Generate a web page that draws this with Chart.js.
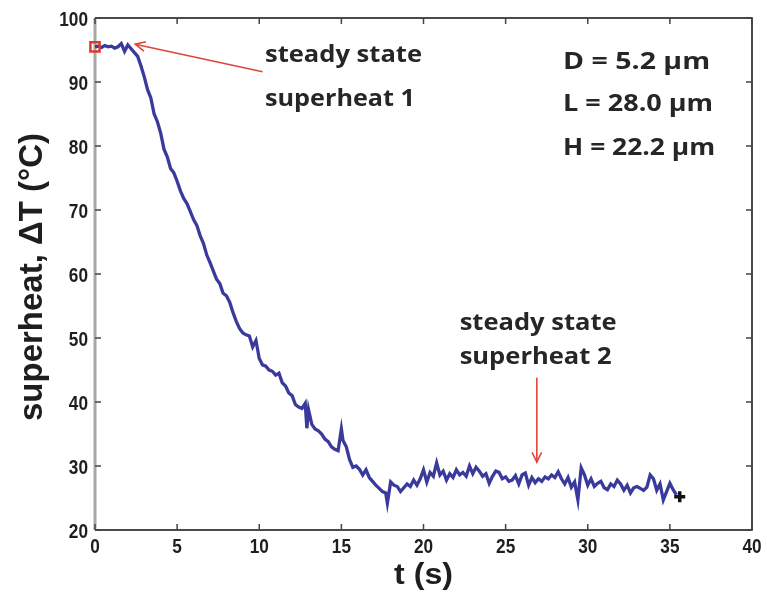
<!DOCTYPE html>
<html>
<head>
<meta charset="utf-8">
<script src="https://cdn.jsdelivr.net/npm/chart.js@4"></script>
<style>
  html, body { margin: 0; padding: 0; background: #fff; }
  #wrap { width: 767px; height: 594px; }
</style>
</head>
<body>
<div id="wrap"><canvas id="grafico"></canvas></div>
<script>
// time (s) and superheat (degC)
const tempo = [
  0, 0.2, 0.4, 0.6, 0.8, 1.0, 1.2, 1.4, 1.6, 1.8, 2.0, 2.2, 2.4, 2.6, 2.8, 3.0,
  3.2, 3.4, 3.6, 3.8, 4.0, 4.2, 4.4, 4.6, 4.8, 5.0, 5.2, 5.4, 5.6, 5.8, 6.0,
  6.2, 6.4, 6.6, 6.8, 7.0, 7.2, 7.4, 7.6, 7.8, 8.0, 8.2, 8.4, 8.6, 8.8, 9.0,
  9.2, 9.4, 9.6, 9.8, 10.0, 10.2, 10.4, 10.6, 10.8, 11.0, 11.2, 11.4, 11.6, 11.8, 12.0,
  12.2, 12.4, 12.6, 12.8, 12.9, 13.0, 13.2, 13.4, 13.6, 13.8, 14.0, 14.2, 14.4, 14.6, 14.8,
  15.0, 15.1, 15.3, 15.5, 15.7, 15.9, 16.1, 16.3, 16.5, 16.7, 16.9, 17.1, 17.3, 17.5, 17.7,
  17.8, 18.0, 18.2, 18.4, 18.6, 18.8, 19.0, 19.2, 19.4, 19.6, 19.8, 20.0, 20.2, 20.4, 20.6,
  20.8, 21.0, 21.2, 21.4, 21.6, 21.8, 22.0, 22.2, 22.4, 22.6, 22.8, 23.0, 23.2, 23.4, 23.6,
  23.8, 24.0, 24.2, 24.4, 24.6, 24.8, 25.0, 25.2, 25.4, 25.6, 25.8, 26.0, 26.2, 26.4, 26.6,
  26.8, 27.0, 27.2, 27.4, 27.6, 27.8, 28.0, 28.2, 28.4, 28.6, 28.8, 29.0, 29.2, 29.4, 29.6,
  29.8, 30.0, 30.2, 30.4, 30.6, 30.8, 31.0, 31.2, 31.4, 31.6, 31.8, 32.0, 32.2, 32.4, 32.6,
  32.8, 33.0, 33.2, 33.4, 33.6, 33.8, 34.0, 34.2, 34.4, 34.6, 34.8, 35.0, 35.2, 35.4
]
const superaquecimento = [
  95.5, 95.6, 95.4, 95.7, 95.5, 95.6, 95.3, 95.5, 96.0, 94.8, 95.8, 95.2, 94.6, 94.0, 92.5, 90.8,
  88.8, 87.5, 85.0, 83.8, 82.0, 79.5, 78.3, 76.5, 75.8, 74.5, 73.0, 71.8, 71.0, 69.8, 68.5,
  67.6, 66.0, 64.8, 63.0, 61.8, 60.5, 59.2, 58.5, 57.0, 56.6, 55.6, 54.0, 52.6, 51.5, 50.8,
  50.5, 50.3, 48.6, 49.6, 46.8, 45.8, 45.6, 45.0, 44.8, 44.2, 44.5, 43.0, 42.5, 41.4, 41.0,
  39.6, 39.2, 39.0, 39.8, 35.9, 38.8, 36.5, 35.8, 35.5, 35.0, 34.2, 33.8, 33.0, 32.6, 32.4,
  35.8, 34.0, 33.0, 31.0, 29.8, 30.0, 29.5, 28.6, 29.4, 28.2, 27.6, 27.0, 26.5, 26.0, 25.8,
  24.2, 27.5, 27.0, 26.8, 26.0, 26.6, 27.2, 26.8, 27.8, 27.0, 28.0, 29.4, 27.5, 29.0, 28.4,
  30.5, 28.6, 29.2, 27.8, 28.8, 28.2, 29.4, 28.6, 29.0, 28.4, 30.0, 28.8, 29.8, 29.2, 28.4,
  28.8, 27.3, 28.4, 29.2, 29.0, 28.0, 28.3, 27.6, 27.8, 28.5, 27.2, 28.6, 28.9, 27.0, 28.2,
  27.4, 28.0, 27.6, 28.3, 28.0, 28.6, 28.2, 29.1, 28.0, 27.2, 28.2, 26.7, 27.5, 24.7, 29.7,
  28.6, 27.0, 28.0, 26.8, 27.3, 27.6, 26.6, 26.3, 27.2, 26.8, 27.8, 27.2, 26.2, 27.0, 25.8,
  26.6, 26.8, 26.5, 26.2, 26.7, 28.6, 28.0, 26.2, 27.2, 24.7, 26.0, 27.3, 26.3, 25.5
]
const inicio = [{ x: 0, y: 95.5 }]
const fim = [{ x: 35.6, y: 25.2 }]

const ticksX = [0, 5, 10, 15, 20, 25, 30, 35, 40]
const ticksY = [20, 30, 40, 50, 60, 70, 80, 90, 100]

const tituloX = 't (s)'
const tituloY = 'superheat, \u0394T (\u00b0C)'
const notaEstado1 = ['steady state', 'superheat 1']
const notaEstado2 = ['steady state', 'superheat 2']
const notaDimensoes = ['D = 5.2 \u00b5m', 'L = 28.0 \u00b5m', 'H = 22.2 \u00b5m']

const pontos = tempo.map((t, i) => ({ x: t, y: superaquecimento[i] }))

const fonteArial = '"Liberation Sans", Arial, sans-serif'
const fonteNota = '"Open Sans", sans-serif'

function seta(ctx, x1, y1, x2, y2) {
    ctx.beginPath()
    ctx.moveTo(x1, y1)
    ctx.lineTo(x2, y2)
    ctx.stroke()
    const ang = Math.atan2(y2 - y1, x2 - x1)
    const len = 11
    ctx.beginPath()
    ctx.moveTo(x2 - len * Math.cos(ang - 0.45), y2 - len * Math.sin(ang - 0.45))
    ctx.lineTo(x2, y2)
    ctx.lineTo(x2 - len * Math.cos(ang + 0.45), y2 - len * Math.sin(ang + 0.45))
    ctx.stroke()
}

// text squeezed/stretched horizontally so it spans the given width
function textoLargura(ctx, s, x, y, largura, align) {
    const w = ctx.measureText(s).width
    const k = largura / w
    ctx.save()
    ctx.translate(x, y)
    ctx.scale(k, 1)
    ctx.textAlign = align || 'left'
    ctx.fillText(s, 0, 0)
    ctx.restore()
}

const moldura = {
    id: 'moldura',
    beforeDatasetsDraw(chart) {
        const { ctx, chartArea: a, scales: { x, y } } = chart
        ctx.save()
        ctx.strokeStyle = '#111'
        ctx.lineWidth = 1.5
        ctx.beginPath()
        ctx.moveTo(a.left, a.top)
        ctx.lineTo(a.right, a.top)
        ctx.lineTo(a.right, a.bottom)
        ctx.lineTo(a.left, a.bottom)
        ctx.stroke()
        ctx.strokeStyle = '#a8a8a8'
        ctx.lineWidth = 3
        ctx.beginPath()
        ctx.moveTo(a.left, a.top)
        ctx.lineTo(a.left, a.bottom)
        ctx.stroke()
        // inward ticks
        ctx.strokeStyle = '#444'
        ctx.lineWidth = 1.5
        ticksX.forEach(v => {
            const px = x.getPixelForValue(v)
            ctx.beginPath()
            ctx.moveTo(px, a.bottom); ctx.lineTo(px, a.bottom - 6)
            ctx.moveTo(px, a.top); ctx.lineTo(px, a.top + 6)
            ctx.stroke()
        })
        ticksY.forEach(v => {
            const py = y.getPixelForValue(v)
            ctx.beginPath()
            ctx.moveTo(a.left, py); ctx.lineTo(a.left + 6, py)
            ctx.moveTo(a.right, py); ctx.lineTo(a.right - 6, py)
            ctx.stroke()
        })
        // tick labels (narrow bold)
        ctx.fillStyle = '#1e1e1e'
        ctx.font = 'bold 21px ' + fonteArial
        ctx.textBaseline = 'alphabetic'
        ticksY.forEach(v => {
            const s = String(v)
            const w = ctx.measureText(s).width * 0.82
            textoLargura(ctx, s, a.left - 7, y.getPixelForValue(v) + 7.5, w, 'right')
        })
        ticksX.forEach(v => {
            const s = String(v)
            const w = ctx.measureText(s).width * 0.82
            textoLargura(ctx, s, x.getPixelForValue(v), a.bottom + 23, w, 'center')
        })
        // axis titles
        ctx.font = 'bold 29px ' + fonteArial
        textoLargura(ctx, tituloX, (a.left + a.right) / 2, 584, 59, 'center')
        ctx.save()
        ctx.font = 'bold 33px ' + fonteArial
        ctx.translate(42, (a.top + a.bottom) / 2 + 3)
        ctx.rotate(-Math.PI / 2)
        textoLargura(ctx, tituloY, 0, 0, 288, 'center')
        ctx.restore()
        ctx.restore()
    },
    afterDatasetsDraw(chart) {
        const { ctx, scales: { x, y } } = chart
        ctx.save()
        // arrows
        ctx.strokeStyle = '#e0453a'
        ctx.lineWidth = 1.6
        seta(ctx, x.getPixelForValue(10.2), y.getPixelForValue(91.6), x.getPixelForValue(2.45), y.getPixelForValue(95.9))
        seta(ctx, x.getPixelForValue(26.9), y.getPixelForValue(43.8), x.getPixelForValue(26.9), y.getPixelForValue(30.6))
        // notes
        ctx.fillStyle = '#262626'
        ctx.font = 'bold 23px ' + fonteNota
        ctx.textBaseline = 'middle'
        notaEstado1.forEach((s, i) => {
            textoLargura(ctx, s, x.getPixelForValue(10.35), y.getPixelForValue([94.1, 87.2][i]), [157, 150][i])
        })
        notaEstado2.forEach((s, i) => {
            textoLargura(ctx, s, x.getPixelForValue(22.2), y.getPixelForValue([52.3, 47.0][i]), [157, 152][i])
        })
        ctx.font = 'bold 24px ' + fonteNota
        notaDimensoes.forEach((s, i) => {
            textoLargura(ctx, s, x.getPixelForValue(28.5), y.getPixelForValue([93.1, 86.6, 79.7][i]), [147, 150, 152][i])
        })
        ctx.restore()
    }
}

new Chart(document.getElementById('grafico'), {
    type: 'line',
    data: {
        datasets: [
            {
                data: pontos,
                borderColor: '#3a3a9c',
                borderWidth: 3.3,
                pointRadius: 0,
                tension: 0,
                order: 2
            },
            {
                data: inicio,
                showLine: false,
                pointStyle: 'rect',
                pointRadius: 6.5,
                pointBorderColor: '#e03a30',
                pointBackgroundColor: 'rgba(0,0,0,0)',
                pointBorderWidth: 2.5,
                clip: false,
                order: 1
            },
            {
                data: fim,
                showLine: false,
                pointStyle: 'cross',
                pointRadius: 5.5,
                pointBorderColor: '#111',
                pointBorderWidth: 3.5,
                clip: false,
                order: 1
            }
        ]
    },
    options: {
        responsive: true,
        maintainAspectRatio: false,
        animation: false,
        layout: { padding: { top: 18, right: 15, left: 0, bottom: 0 } },
        plugins: { legend: { display: false }, tooltip: { enabled: false } },
        scales: {
            x: {
                type: 'linear',
                min: 0, max: 40,
                afterBuildTicks: s => { s.ticks = ticksX.map(v => ({ value: v })) },
                afterFit: s => { s.height = 64 },
                grid: { display: false },
                border: { display: false },
                ticks: { display: false }
            },
            y: {
                type: 'linear',
                min: 20, max: 100,
                afterBuildTicks: s => { s.ticks = ticksY.map(v => ({ value: v })) },
                afterFit: s => { s.width = 95 },
                grid: { display: false },
                border: { display: false },
                ticks: { display: false }
            }
        }
    },
    plugins: [moldura]
})
</script>
</body>
</html>
